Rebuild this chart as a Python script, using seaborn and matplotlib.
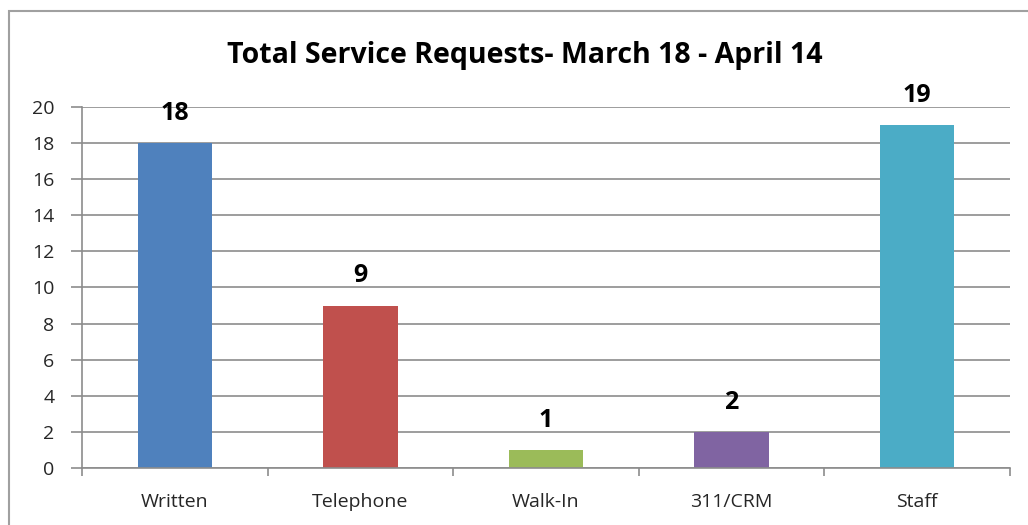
import seaborn as sns
import matplotlib.pyplot as plt
from matplotlib.patches import Rectangle
import pandas as pd

# Data
categories = ['Written', 'Telephone', 'Walk-In', '311/CRM', 'Staff']
requests = [18, 9, 1, 2, 19]
colors = ['#4F81BD', '#C0504D', '#9BBB59', '#8064A2', '#4BACC6']
title = 'Total Service Requests- March 18 - April 14'

df = pd.DataFrame({'Category': categories, 'Requests': requests})

sns.set_style('white')
plt.rcParams['font.family'] = ['Open Sans', 'DejaVu Sans']

fig = plt.figure(figsize=(10.28, 5.25), dpi=100)
ax = fig.add_axes([0.0798, 0.1086, 0.9027, 0.6876])

sns.barplot(data=df, x='Category', y='Requests', hue='Category',
            palette=colors, width=0.4, legend=False, ax=ax,
            edgecolor='none', saturation=1)

# value labels
for i, v in enumerate(requests):
    ax.text(i, v + 1.65, str(v), ha='center', va='center',
            fontsize=18, fontweight='bold', color='black')

ax.set_ylim(0, 20)
ax.set_xlim(-0.5, len(categories) - 0.5)
ax.set_yticks(range(0, 21, 2))
ax.yaxis.grid(True, color='#8c8c8c', linewidth=1.2)
ax.set_axisbelow(True)
ax.set_xlabel('')
ax.set_ylabel('')

for s in ['top', 'right']:
    ax.spines[s].set_visible(False)
for s in ['left', 'bottom']:
    ax.spines[s].set_color('#8c8c8c')
    ax.spines[s].set_linewidth(1.2)

ax.tick_params(axis='y', length=8, width=1.2, color='#8c8c8c',
               labelsize=14, pad=12, left=True)
ax.tick_params(axis='x', which='major', length=0, labelsize=14, pad=18)
ax.set_xticks([i - 0.5 for i in range(len(categories) + 1)], minor=True)
ax.tick_params(axis='x', which='minor', length=6, width=1.2,
               color='#8c8c8c', bottom=True)

fig.text(0.511, 0.895, title, ha='center', va='center',
         fontsize=20.5, fontweight='bold', color='black')

# chart-area border
fig.patches.append(Rectangle((9 / 1028, -0.05), 1.1, 1 - 11 / 525 + 0.05,
                             transform=fig.transFigure, fill=False,
                             edgecolor='#a0a0a0', linewidth=1.5))

fig.savefig('out.png', dpi=100)
